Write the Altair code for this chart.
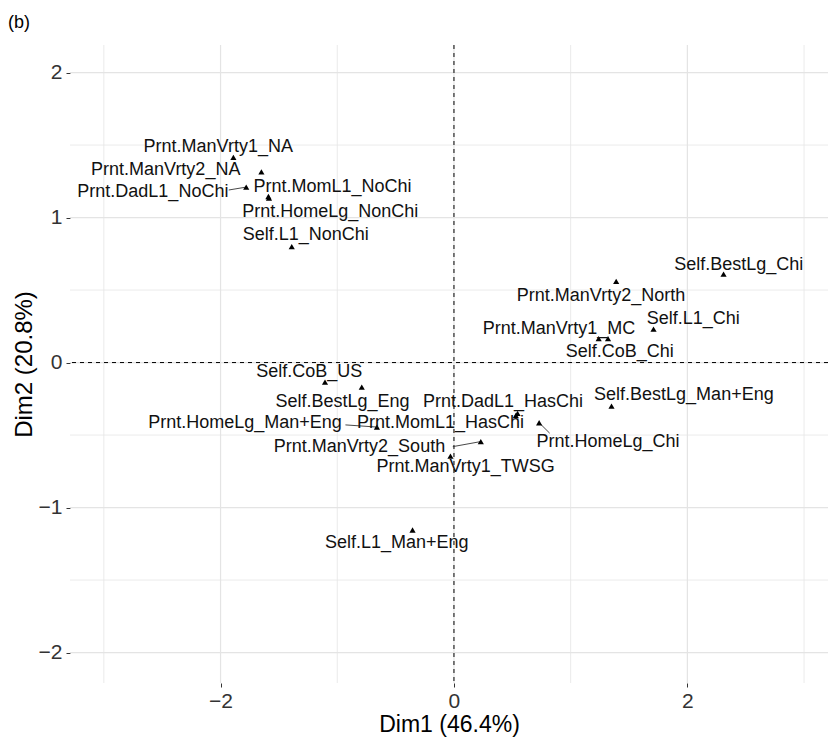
import altair as alt
import pandas as pd

# Category coordinates
labels = [
    "Prnt.ManVrty1_NA", "Prnt.ManVrty2_NA", "Prnt.DadL1_NoChi", "Prnt.MomL1_NoChi",
    "Prnt.HomeLg_NonChi", "Self.L1_NonChi", "Self.BestLg_Chi", "Prnt.ManVrty2_North",
    "Self.L1_Chi", "Prnt.ManVrty1_MC", "Self.CoB_Chi", "Self.CoB_US", "Self.BestLg_Eng",
    "Prnt.DadL1_HasChi", "Self.BestLg_Man+Eng", "Prnt.HomeLg_Man+Eng", "Prnt.MomL1_HasChi",
    "Prnt.HomeLg_Chi", "Prnt.ManVrty2_South", "Prnt.ManVrty1_TWSG", "Self.L1_Man+Eng",
]
dim1 = [-1.89, -1.65, -1.78, -1.59, -1.585, -1.39, 2.31, 1.39, 1.71, 1.24, 1.32,
        -1.105, -0.79, 0.545, 1.35, -0.66, 0.53, 0.73, 0.23, -0.03, -0.355]
dim2 = [1.415, 1.315, 1.21, 1.145, 1.135, 0.80, 0.61, 0.56, 0.23, 0.165, 0.165,
        -0.135, -0.17, -0.35, -0.30, -0.445, -0.365, -0.415, -0.545, -0.645, -1.155]

# Repelled label anchor positions (data units)
label_x = [-2.02, -2.47, -2.58, -1.04, -1.06, -1.27, 2.44, 1.26, 2.05, 0.90, 1.42,
           -1.24, -0.955, 0.42, 1.97, -1.79, -0.115, 1.32, -0.81, 0.10, -0.49]
label_y = [1.486, 1.325, 1.176, 1.21, 1.04, 0.878, 0.67, 0.46, 0.30, 0.23, 0.075,
           -0.065, -0.272, -0.272, -0.224, -0.42, -0.42, -0.547, -0.582, -0.72, -1.243]

# Connector segments (label edge -> point)
seg_labels = ["Prnt.DadL1_NoChi", "Prnt.HomeLg_Man+Eng", "Prnt.ManVrty2_South", "Prnt.HomeLg_Chi"]
seg_start_x = [-1.93, -0.93, -0.01, 0.82]
seg_start_y = [1.19, -0.43, -0.58, -0.487]

x_major = [-2, 0, 2]
x_minor = [-3, -1, 1, 3]
y_major = [-2, -1, 0, 1, 2]
y_minor = [-1.5, -0.5, 0.5, 1.5]

pts = pd.DataFrame({"label": labels, "dim1": dim1, "dim2": dim2,
                    "lx": label_x, "ly": label_y})
idx = {l: i for i, l in enumerate(labels)}
segs = pd.DataFrame({
    "x": seg_start_x, "y": seg_start_y,
    "x2": [dim1[idx[l]] for l in seg_labels],
    "y2": [dim2[idx[l]] for l in seg_labels],
})

FONT = "Liberation Sans"
xs = alt.Scale(domain=[-3.29, 3.205], nice=False, zero=False)
ys = alt.Scale(domain=[-2.21, 2.19], nice=False, zero=False)

GRID = "#E4E4E4"
xgrid_major = alt.Chart(pd.DataFrame({"v": x_major})).mark_rule(color=GRID, strokeWidth=1.2).encode(
    x=alt.X("v:Q", scale=xs))
xgrid_minor = alt.Chart(pd.DataFrame({"v": x_minor})).mark_rule(color=GRID, strokeWidth=0.8).encode(
    x=alt.X("v:Q", scale=xs))
ygrid_major = alt.Chart(pd.DataFrame({"v": y_major})).mark_rule(color=GRID, strokeWidth=1.2).encode(
    y=alt.Y("v:Q", scale=ys))
ygrid_minor = alt.Chart(pd.DataFrame({"v": y_minor})).mark_rule(color=GRID, strokeWidth=0.8).encode(
    y=alt.Y("v:Q", scale=ys))

vzero = alt.Chart(pd.DataFrame({"v": [0]})).mark_rule(color="black", strokeWidth=1, strokeDash=[4, 4]).encode(
    x=alt.X("v:Q", scale=xs))
hzero = alt.Chart(pd.DataFrame({"v": [0]})).mark_rule(color="black", strokeWidth=1, strokeDash=[4, 4]).encode(
    y=alt.Y("v:Q", scale=ys))

seg_layer = alt.Chart(segs).mark_rule(color="#333333", strokeWidth=0.9).encode(
    x=alt.X("x:Q", scale=xs), y=alt.Y("y:Q", scale=ys), x2="x2:Q", y2="y2:Q")

base = alt.Chart(pts)
points = base.mark_point(shape="triangle-up", filled=True, color="black", size=38, opacity=1).encode(
    x=alt.X("dim1:Q", scale=xs,
            axis=alt.Axis(values=x_major, format="d", title="Dim1 (46.4%)",
                          labelPadding=3, titlePadding=2, titleFontSize=23)),
    y=alt.Y("dim2:Q", scale=ys,
            axis=alt.Axis(values=y_major, format="d", title="Dim2 (20.8%)",
                          labelPadding=4, titlePadding=2)),
)
texts = base.mark_text(font=FONT, fontSize=18, color="#111111", align="center", baseline="middle").encode(
    x=alt.X("lx:Q", scale=xs), y=alt.Y("ly:Q", scale=ys), text="label:N")

panel_tag = alt.Chart(pd.DataFrame({"t": ["(b)"]})).mark_text(
    font=FONT, fontSize=18, color="black", align="left", baseline="alphabetic"
).encode(x=alt.value(-62), y=alt.value(-17), text="t:N")

chart = alt.layer(
    xgrid_minor, ygrid_minor, xgrid_major, ygrid_major, vzero, hzero, seg_layer, points, texts, panel_tag
).properties(
    width=758, height=638,
    autosize=alt.AutoSizeParams(type="none"),
    padding={"left": 62, "top": 37, "right": 0, "bottom": 55},
).configure_view(stroke=None).configure_axis(
    grid=False, domain=False, labelFont=FONT, labelFontSize=21, labelColor="#333333",
    tickColor="#333333", tickSize=4, tickWidth=1,
    titleFont=FONT, titleFontSize=24, titleFontWeight="normal", titleColor="black",
)

chart.save("out.html", embed_options={"renderer": "svg", "actions": False})
